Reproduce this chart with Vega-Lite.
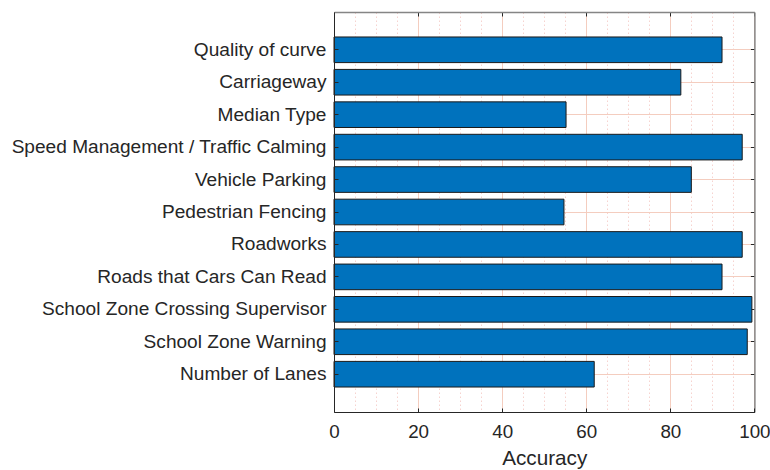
{
  "$schema": "https://vega.github.io/schema/vega-lite/v6.json",
  "width": 420.4,
  "height": 400,
  "autosize": "none",
  "padding": {"left": 334, "top": 12, "right": 15.6, "bottom": 58},
  "background": "white",
  "data": {
    "values": [
      {"feature": "Quality of curve", "accuracy": 92.3},
      {"feature": "Carriageway", "accuracy": 82.5},
      {"feature": "Median Type", "accuracy": 55.2},
      {"feature": "Speed Management / Traffic Calming", "accuracy": 97.1},
      {"feature": "Vehicle Parking", "accuracy": 85.0},
      {"feature": "Pedestrian Fencing", "accuracy": 54.7},
      {"feature": "Roadworks", "accuracy": 97.1},
      {"feature": "Roads that Cars Can Read", "accuracy": 92.3},
      {"feature": "School Zone Crossing Supervisor", "accuracy": 99.4},
      {"feature": "School Zone Warning", "accuracy": 98.3},
      {"feature": "Number of Lanes", "accuracy": 61.9}
    ]
  },
  "layer": [
    {
      "mark": {"type": "bar", "fill": "#0072BD", "stroke": "#1a1a1a", "strokeWidth": 1},
      "encoding": {
        "x": {
          "field": "accuracy",
          "type": "quantitative",
          "scale": {"domain": [0, 100], "nice": false, "zero": true},
          "axis": {
            "orient": "bottom",
            "values": [0, 20, 40, 60, 80, 100],
            "title": "Accuracy",
            "grid": false,
            "zindex": 1,
            "tickSize": -4,
            "labelPadding": 14,
            "titlePadding": 8
          }
        },
        "y": {
          "field": "feature",
          "type": "nominal",
          "sort": null,
          "scale": {"paddingInner": 0.21, "paddingOuter": 0.77},
          "axis": {
            "orient": "left",
            "title": null,
            "grid": false,
            "zindex": 1,
            "bandPosition": 0.5,
            "tickSize": -4,
            "labelPadding": 12,
            "labelLimit": 400,
            "labelFontSize": 19.1
          }
        }
      }
    },
    {
      "mark": {"type": "point", "opacity": 0},
      "encoding": {
        "x": {
          "field": "accuracy",
          "type": "quantitative",
          "axis": {
            "orient": "top",
            "values": [0, 5, 10, 15, 20, 25, 30, 35, 40, 45, 50, 55, 60, 65, 70, 75, 80, 85, 90, 95, 100],
            "labels": false,
            "title": null,
            "grid": true,
            "gridDash": {"condition": {"test": "datum.value % 20 === 0", "value": []}, "value": [1.5, 2.5]},
            "gridColor": {"condition": {"test": "datum.value % 20 === 0", "value": "#f4cdbf"}, "value": "#f6d3cf"},
            "tickOpacity": {"condition": {"test": "datum.value % 20 === 0", "value": 1}, "value": 0},
            "tickSize": -4,
            "domainColor": "#858585",
            "domainWidth": 1.5
          }
        },
        "y": {
          "field": "feature",
          "type": "nominal",
          "sort": null,
          "axis": {
            "orient": "right",
            "labels": false,
            "title": null,
            "grid": true,
            "gridColor": "#f4cdbf",
            "bandPosition": 0.5,
            "tickSize": -4,
            "domainColor": "#858585",
            "domainWidth": 1.5
          }
        }
      }
    }
  ],
  "resolve": {"axis": {"x": "independent", "y": "independent"}},
  "config": {
    "view": {"stroke": null},
    "axis": {
      "labelFont": "Liberation Sans",
      "titleFont": "Liberation Sans",
      "labelFontSize": 18.8,
      "titleFontSize": 20.7,
      "titleFontWeight": "normal",
      "labelColor": "#262626",
      "titleColor": "#262626",
      "domainColor": "#262626",
      "tickColor": "#262626",
      "domainWidth": 1,
      "tickWidth": 1,
      "labelOverlap": false,
      "labelBound": false,
      "labelFlush": false
    }
  }
}
